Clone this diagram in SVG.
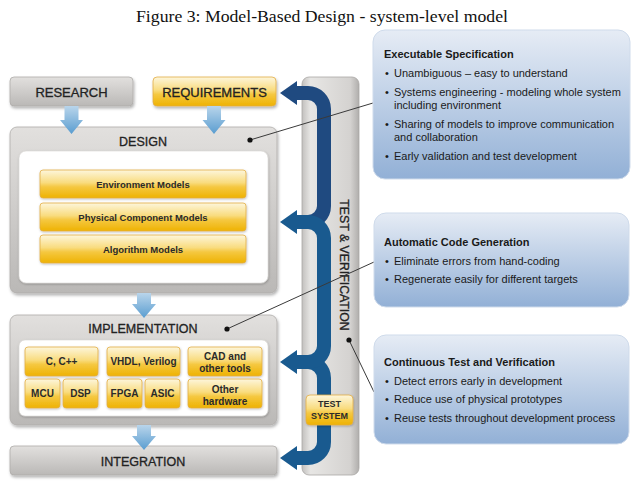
<svg xmlns="http://www.w3.org/2000/svg" width="644" height="491" viewBox="0 0 644 491">
<defs>
<linearGradient id="gGray" x1="0" y1="0" x2="0" y2="1">
<stop offset="0" stop-color="#e2e0de"/><stop offset="1" stop-color="#bab8b6"/>
</linearGradient>
<linearGradient id="gCol" x1="0" y1="0" x2="1" y2="0">
<stop offset="0" stop-color="#c2c0be"/><stop offset="0.15" stop-color="#e7e6e4"/><stop offset="0.85" stop-color="#d4d2d0"/><stop offset="1" stop-color="#b0aeac"/>
</linearGradient>
<linearGradient id="gYel" x1="0" y1="0" x2="0" y2="1">
<stop offset="0" stop-color="#fdf6dc"/><stop offset="0.45" stop-color="#f9dc7f"/><stop offset="0.6" stop-color="#f5c842"/><stop offset="1" stop-color="#eeb200"/>
</linearGradient>
<linearGradient id="gInfo" x1="0" y1="0" x2="0" y2="1">
<stop offset="0" stop-color="#e6ecf5"/><stop offset="1" stop-color="#92b0d6"/>
</linearGradient>
<linearGradient id="gDown" x1="0" y1="0" x2="0" y2="1">
<stop offset="0" stop-color="#b9d5eb"/><stop offset="1" stop-color="#5a9dd0"/>
</linearGradient>
<filter id="sh" x="-10%" y="-10%" width="120%" height="130%">
<feDropShadow dx="1" dy="2" stdDeviation="1.5" flood-color="#000" flood-opacity="0.3"/>
</filter>
<filter id="shs" x="-10%" y="-10%" width="120%" height="130%">
<feDropShadow dx="0.5" dy="1" stdDeviation="0.8" flood-color="#000" flood-opacity="0.25"/>
</filter>
</defs>
<style>
.gray{fill:url(#gGray);stroke:#aeacaa;stroke-width:0.8;filter:url(#sh)}
.yel{fill:url(#gYel);stroke:#e2ad45;stroke-width:0.8;filter:url(#shs)}
.white{fill:#fff;stroke:#d8d6d4;stroke-width:0.6;filter:url(#shs)}
.info{fill:url(#gInfo);stroke:#cfdbeb;stroke-width:1}
.down{fill:url(#gDown)}
.hdr{font-family:"Liberation Sans",Arial,sans-serif;font-size:12.5px;fill:#222;stroke:#222;stroke-width:0.3;text-anchor:middle}
.yt{font-family:"Liberation Sans",Arial,sans-serif;font-size:9.5px;font-weight:bold;fill:#2a2a2a;text-anchor:middle}
.st{font-family:"Liberation Sans",Arial,sans-serif;font-size:10px;font-weight:bold;fill:#2a2a2a;text-anchor:middle}
.it{font-family:"Liberation Sans",Arial,sans-serif;font-size:11px;font-weight:bold;fill:#1a1a1a}
.ib{font-family:"Liberation Sans",Arial,sans-serif;font-size:11px;fill:#1a1a1a}
.title{font-family:"Liberation Serif","Times New Roman",serif;font-size:16px;fill:#111;text-anchor:middle}
.blue1{fill:none;stroke:#1f4a80;stroke-width:14}
.blue2{fill:none;stroke:#195a8f;stroke-width:14}
.conn{stroke:#3a3a3a;stroke-width:1;fill:none}
</style>

<text class="title" x="322" y="22" textLength="372" lengthAdjust="spacingAndGlyphs">Figure 3: Model-Based Design - system-level model</text>

<g id="test-verification">
<rect x="302" y="77" width="57" height="398" rx="7" fill="url(#gCol)" stroke="#a9a7a5" stroke-width="0.8"/>
<text class="hdr" x="340" y="265" transform="rotate(90 340 265)" style="font-size:12.3px">TEST &amp; VERIFICATION</text>
</g>

<g id="research">
<rect class="gray" x="10" y="77" width="123" height="29" rx="4"/>
<text class="hdr" x="71.5" y="96.5" style="font-size:13px">RESEARCH</text>
</g>

<g id="requirements">
<rect class="yel" x="153" y="77" width="123" height="29" rx="4" style="filter:url(#sh)"/>
<text class="hdr" x="214.5" y="96.5" style="font-size:13px">REQUIREMENTS</text>
</g>

<g id="design">
<rect class="gray" x="10" y="127" width="267" height="166" rx="7"/>
<text class="hdr" x="143" y="145.5">DESIGN</text>
<rect class="white" x="19" y="151" width="249" height="132" rx="7"/>
</g>
<g id="environment-models">
<rect class="yel" x="40" y="170" width="206" height="28" rx="3"/>
<text class="yt" x="143" y="187.5">Environment Models</text>
</g>
<g id="physical-component-models">
<rect class="yel" x="40" y="203" width="206" height="28" rx="3"/>
<text class="yt" x="143" y="220.5">Physical Component Models</text>
</g>
<g id="algorithm-models">
<rect class="yel" x="40" y="235" width="206" height="28" rx="3"/>
<text class="yt" x="143" y="252.5">Algorithm Models</text>
</g>

<g id="implementation">
<rect class="gray" x="10" y="315" width="267" height="110" rx="7"/>
<text class="hdr" x="143" y="332.5">IMPLEMENTATION</text>
<rect class="white" x="19" y="340" width="249" height="76" rx="6"/>
</g>
<g id="c-cpp"><rect class="yel" x="25" y="347" width="73" height="29" rx="3"/><text class="st" x="61.5" y="365">C, C++</text></g>
<g id="vhdl-verilog"><rect class="yel" x="107" y="347" width="73" height="29" rx="3"/><text class="st" x="143.5" y="365">VHDL, Verilog</text></g>
<g id="cad-tools"><rect class="yel" x="188" y="347" width="74" height="29" rx="3"/><text class="st" x="225" y="360">CAD and</text><text class="st" x="225" y="371.5">other tools</text></g>
<g id="mcu"><rect class="yel" x="25" y="379" width="35" height="29" rx="3"/><text class="st" x="42.5" y="397">MCU</text></g>
<g id="dsp"><rect class="yel" x="63" y="379" width="35" height="29" rx="3"/><text class="st" x="80.5" y="397">DSP</text></g>
<g id="fpga"><rect class="yel" x="107" y="379" width="35" height="29" rx="3"/><text class="st" x="124.5" y="397">FPGA</text></g>
<g id="asic"><rect class="yel" x="145" y="379" width="35" height="29" rx="3"/><text class="st" x="162.5" y="397">ASIC</text></g>
<g id="other-hardware"><rect class="yel" x="188" y="379" width="74" height="29" rx="3"/><text class="st" x="225" y="392.5">Other</text><text class="st" x="225" y="404.5">hardware</text></g>

<g id="integration">
<rect class="gray" x="10" y="446" width="267" height="29" rx="4"/>
<text class="hdr" x="143" y="465.5">INTEGRATION</text>
</g>

<g id="connectors">
<polygon class="down" points="64.5,106 78.5,106 78.5,120 83,120 71.5,134 60,120 64.5,120"/>
<polygon class="down" points="207,106 221,106 221,120 225.5,120 214,134 202.5,120 207,120"/>
<polygon class="down" points="137,293 151,293 151,304 156,304 144,318 132,304 137,304"/>
<polygon class="down" points="137,425 151,425 151,436 156,436 144,450 132,436 137,436"/>

<path class="blue1" d="M296 93 H308 A16 16 0 0 1 324 109 V206 A16 16 0 0 1 308 222 H300"/>
<polygon fill="#1f4a80" points="280,93 297,81 297,105"/>
<path class="blue2" d="M300 362 H308 A16 16 0 0 1 324 378 V442 A16 16 0 0 1 308 458 H296"/>
<path class="blue2" d="M296 222 H308 A16 16 0 0 1 324 238 V346 A16 16 0 0 1 308 362 H296"/>
<polygon fill="#195a8f" points="280,222 297,210 297,234"/>
<polygon fill="#195a8f" points="280,362 297,350 297,374"/>
<polygon fill="#195a8f" points="280,458 297,446 297,470"/>

<line class="conn" x1="250" y1="140" x2="373" y2="103"/>
<line class="conn" x1="227" y1="329" x2="374" y2="262"/>
<line class="conn" x1="349" y1="340" x2="374" y2="392"/>
<circle cx="250" cy="140" r="2.6" fill="#111"/>
<circle cx="227" cy="329" r="2.6" fill="#111"/>
<circle cx="349" cy="340" r="2.6" fill="#111"/>
</g>

<g id="test-system">
<rect class="yel" x="306" y="395" width="47" height="30" rx="4"/>
<text class="st" x="329.5" y="407" style="font-size:9px">TEST</text>
<text class="st" x="329.5" y="419" style="font-size:9px">SYSTEM</text>
</g>

<g id="executable-specification">
<rect class="info" x="373" y="30" width="257" height="149" rx="12"/>
<text class="it" x="384" y="58">Executable Specification</text>
<text class="ib" x="385" y="77">•</text><text class="ib" x="394" y="77">Unambiguous – easy to understand</text>
<text class="ib" x="385" y="96">•</text><text class="ib" x="394" y="96">Systems engineering - modeling whole system</text>
<text class="ib" x="394" y="109">including environment</text>
<text class="ib" x="385" y="128">•</text><text class="ib" x="394" y="128">Sharing of models to improve communication</text>
<text class="ib" x="394" y="141">and collaboration</text>
<text class="ib" x="385" y="160">•</text><text class="ib" x="394" y="160">Early validation and test development</text>
</g>

<g id="automatic-code-generation">
<rect class="info" x="374" y="213" width="255" height="94" rx="12"/>
<text class="it" x="384" y="246">Automatic Code Generation</text>
<text class="ib" x="385" y="265">•</text><text class="ib" x="394" y="265">Eliminate errors from hand-coding</text>
<text class="ib" x="385" y="283">•</text><text class="ib" x="394" y="283">Regenerate easily for different targets</text>
</g>

<g id="continuous-test-verification">
<rect class="info" x="374" y="335" width="255" height="109" rx="12"/>
<text class="it" x="384" y="366">Continuous Test and Verification</text>
<text class="ib" x="385" y="385">•</text><text class="ib" x="394" y="385">Detect errors early in development</text>
<text class="ib" x="385" y="403">•</text><text class="ib" x="394" y="403">Reduce use of physical prototypes</text>
<text class="ib" x="385" y="422">•</text><text class="ib" x="394" y="422">Reuse tests throughout development process</text>
</g>
</svg>
